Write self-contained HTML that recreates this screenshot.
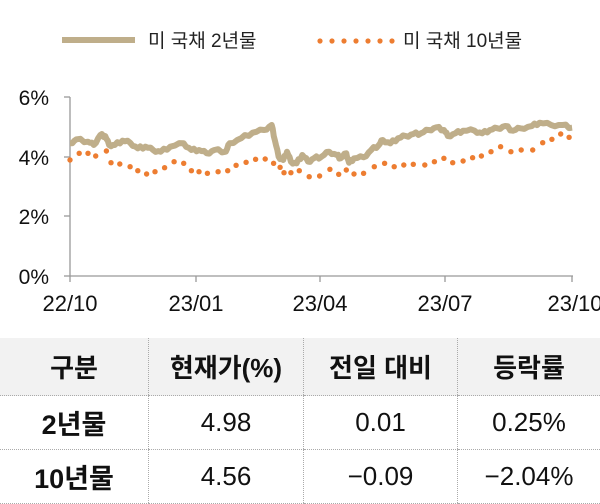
<!DOCTYPE html>
<html><head><meta charset="utf-8"><style>
body{margin:0;width:600px;height:504px;background:#fff;overflow:hidden;font-family:"Liberation Sans","Noto Sans CJK KR",sans-serif;}
svg{position:absolute;left:0;top:0}
table{position:absolute;left:0;top:338px;width:600px;border-collapse:collapse;}
td{text-align:center;height:53px;padding:0;font-size:26px;color:#111;border-bottom:1px dotted #aaa}
td+td{border-left:1px dotted #aaa}
tr.h td{background:#f2f2f2;font-weight:bold;height:57px;font-size:26px}
td.b{font-weight:bold;font-size:27px}
</style></head><body>
<svg id="s" width="600" height="338" font-family="Liberation Sans, Noto Sans CJK KR, sans-serif">
<line x1="62" y1="40" x2="135" y2="40" stroke="#bfae8a" stroke-width="6"/>
<text x="148" y="47" font-size="19" fill="#222">미 국채 2년물</text>
<g fill="#ed7d31"><circle cx="320" cy="41" r="2.6"/><circle cx="332" cy="41" r="2.6"/><circle cx="344" cy="41" r="2.6"/><circle cx="356" cy="41" r="2.6"/><circle cx="368" cy="41" r="2.6"/><circle cx="380" cy="41" r="2.6"/><circle cx="392" cy="41" r="2.6"/></g>
<text x="403" y="47" font-size="19" fill="#222">미 국채 10년물</text>
<g stroke="#999" stroke-width="1.3">
<line x1="70" y1="97" x2="70" y2="276"/><line x1="70" y1="276" x2="573" y2="276"/>
<line x1="64" y1="97" x2="70" y2="97"/><line x1="64" y1="157" x2="70" y2="157"/><line x1="64" y1="216" x2="70" y2="216"/><line x1="64" y1="276" x2="70" y2="276"/>
<line x1="70" y1="276" x2="70" y2="282"/><line x1="196" y1="276" x2="196" y2="282"/><line x1="320" y1="276" x2="320" y2="282"/><line x1="445" y1="276" x2="445" y2="282"/><line x1="572" y1="276" x2="572" y2="282"/>
</g>
<g font-size="21" fill="#111" text-anchor="end">
<text x="49" y="105">6%</text><text x="49" y="165">4%</text><text x="49" y="224">2%</text><text x="49" y="284">0%</text></g>
<g font-size="22" fill="#111" text-anchor="middle">
<text x="70" y="311">22/10</text><text x="196" y="311">23/01</text><text x="320" y="311">23/04</text><text x="445" y="311">23/07</text><text x="575" y="311">23/10</text></g>
</svg>
<script>
var L=[[183,190],[200,178],[230,185],[245,195],[262,165],[275,168],[285,195],[300,195],[320,182],[340,188],[360,205],[380,200],[400,210],[420,215],[445,200],[480,190],[500,210],[520,210],[540,220],[560,210],[590,215],[600,190],[630,175],[660,158],[690,150],[710,135],[718,180],[728,230],[740,240],[750,215],[760,245],[775,250],[790,225],[805,245],[820,235],[840,230],[860,215],[880,225],[890,235],[905,220],[912,248],[925,235],[950,232],[970,210],[990,195],[1000,180],[1020,190],[1040,175],[1060,168],[1080,162],[1100,160],[1120,150],[1140,142],[1160,150],[1170,168],[1190,160],[1210,152],[1240,152],[1260,160],[1280,150],[1300,145],[1320,138],[1340,152],[1360,145],[1390,138],[1410,128],[1440,135],[1470,135],[1495,143]];
var D=[[183,240],[207,220],[230,220],[250,228],[278,213],[290,248],[313,252],[340,260],[360,272],[383,282],[405,275],[430,263],[455,245],[480,250],[500,272],[520,275],[542,280],[570,275],[595,272],[617,256],[643,247],[668,238],[693,237],[715,250],[732,262],[742,278],[760,278],[782,272],[808,290],[835,288],[862,268],[885,283],[905,270],[925,282],[950,280],[978,260],[1005,250],[1030,260],[1055,255],[1080,253],[1110,255],[1135,245],[1160,235],[1183,248],[1210,243],[1235,233],[1258,228],[1283,215],[1308,200],[1335,215],[1362,210],[1392,210],[1418,188],[1442,178],[1465,162],[1487,172]];
function X(v){return (v/2.613).toFixed(1)}function Y(v){return (80+v/3).toFixed(1)}
var P=[];for(var i=0;i<L.length-1;i++){var a=L[i],b=L[i+1];for(var k=0;k<3;k++){var t=k/3;P.push([a[0]+(b[0]-a[0])*t,a[1]+(b[1]-a[1])*t+(k?((i*7+k*5)%3-1)*4:0)]);}}P.push(L[L.length-1]);
var s='<polyline fill="none" stroke="#bfae8a" stroke-width="6" stroke-linejoin="round" points="'+P.map(p=>X(p[0])+','+Y(p[1])).join(' ')+'"/>';
s+='<g fill="#ed7d31">'+D.map(p=>'<circle cx="'+X(p[0])+'" cy="'+Y(p[1])+'" r="2.7"/>').join('')+'</g>';
document.getElementById('s').insertAdjacentHTML('beforeend',s);
</script>
<table>
<tr class="h"><td style="width:148px">구분</td><td style="width:154px">현재가(%)</td><td style="width:153px">전일 대비</td><td>등락률</td></tr>
<tr><td class="b">2년물</td><td>4.98</td><td>0.01</td><td>0.25%</td></tr>
<tr><td class="b">10년물</td><td>4.56</td><td>−0.09</td><td>−2.04%</td></tr>
</table>
</body></html>
